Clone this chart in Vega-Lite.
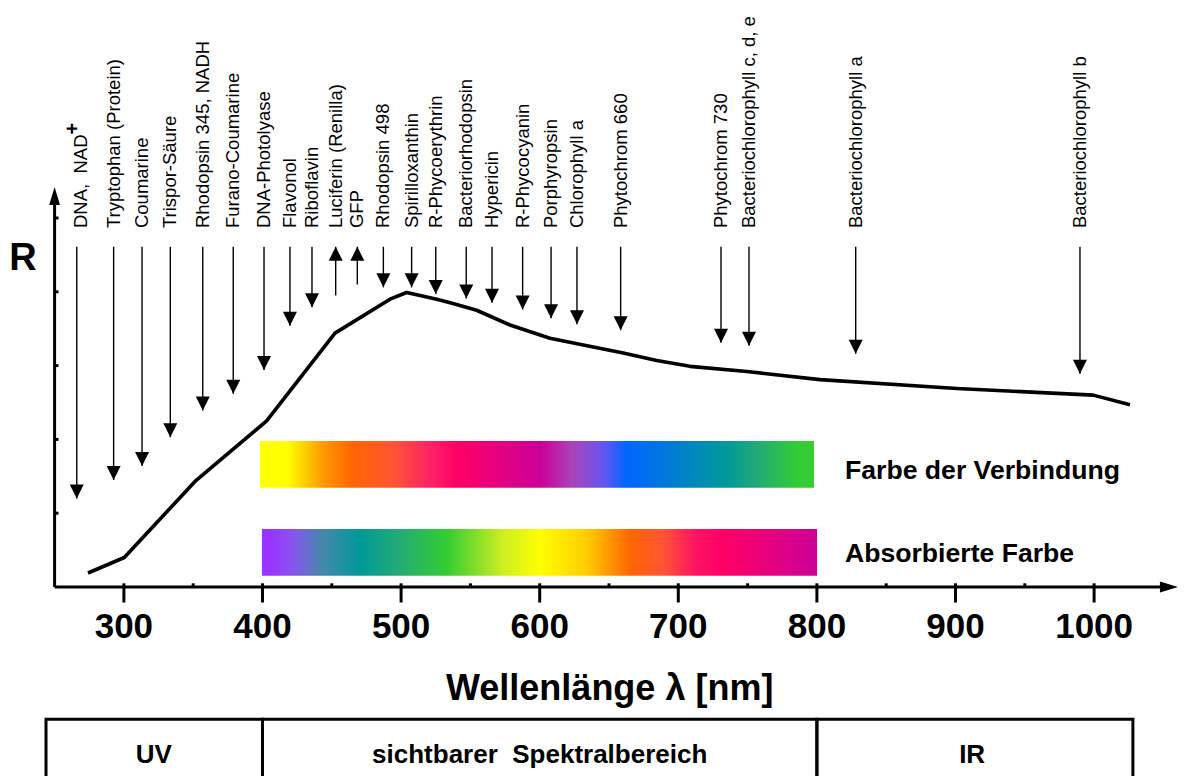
{
  "$schema": "https://vega.github.io/schema/vega-lite/v6.json",
  "width": 1184,
  "height": 776,
  "autosize": {"type": "none"},
  "padding": 0,
  "background": "white",
  "config": {"view": {"stroke": null}, "font": "Liberation Sans"},
  "datasets": {
    "curve": [
      {"nm": 274.1, "r": 0.19}, {"nm": 300.3, "r": 0.40}, {"nm": 351.3, "r": 1.43},
      {"nm": 403.0, "r": 2.25}, {"nm": 452.3, "r": 3.44}, {"nm": 492.0, "r": 3.90},
      {"nm": 504.0, "r": 3.99}, {"nm": 525.7, "r": 3.90}, {"nm": 537.4, "r": 3.84},
      {"nm": 554.5, "r": 3.75}, {"nm": 578.6, "r": 3.55}, {"nm": 607.4, "r": 3.37},
      {"nm": 631.5, "r": 3.28}, {"nm": 660.3, "r": 3.17}, {"nm": 684.4, "r": 3.07},
      {"nm": 708.4, "r": 2.99}, {"nm": 749.4, "r": 2.92}, {"nm": 802.2, "r": 2.81},
      {"nm": 900.9, "r": 2.69}, {"nm": 999.4, "r": 2.60}, {"nm": 1025.9, "r": 2.47}
    ],
    "arrows": [
      {"label": "DNA,\u00a0 NAD", "nm": 266.0, "lnm": 269.2, "tip": 1.20, "tail": 4.61, "dir": "down"},
      {"label": "Tryptophan (Protein)", "nm": 292.6, "lnm": 292.6, "tip": 1.45, "tail": 4.61, "dir": "down"},
      {"label": "Coumarine", "nm": 313.1, "lnm": 313.1, "tip": 1.64, "tail": 4.61, "dir": "down"},
      {"label": "Trispor-Säure", "nm": 333.5, "lnm": 333.5, "tip": 2.03, "tail": 4.61, "dir": "down"},
      {"label": "Rhodopsin 345, NADH", "nm": 356.9, "lnm": 356.9, "tip": 2.39, "tail": 4.61, "dir": "down"},
      {"label": "Furano-Coumarine", "nm": 378.9, "lnm": 378.9, "tip": 2.62, "tail": 4.61, "dir": "down"},
      {"label": "DNA-Photolyase", "nm": 401.1, "lnm": 401.1, "tip": 2.94, "tail": 4.61, "dir": "down"},
      {"label": "Flavonol", "nm": 419.8, "lnm": 419.8, "tip": 3.54, "tail": 4.61, "dir": "down"},
      {"label": "Riboflavin", "nm": 435.7, "lnm": 435.7, "tip": 3.79, "tail": 4.61, "dir": "down"},
      {"label": "Luciferin (Renilla)", "nm": 452.8, "lnm": 452.8, "tip": 4.61, "tail": 3.95, "dir": "up"},
      {"label": "GFP", "nm": 468.4, "lnm": 468.4, "tip": 4.61, "tail": 4.10, "dir": "up"},
      {"label": "Rhodopsin 498", "nm": 487.2, "lnm": 487.2, "tip": 4.06, "tail": 4.61, "dir": "down"},
      {"label": "Spirilloxanthin", "nm": 507.6, "lnm": 507.6, "tip": 4.06, "tail": 4.61, "dir": "down"},
      {"label": "R-Phycoerythrin", "nm": 525.0, "lnm": 525.0, "tip": 3.97, "tail": 4.61, "dir": "down"},
      {"label": "Bacteriorhodopsin", "nm": 547.0, "lnm": 547.0, "tip": 3.91, "tail": 4.61, "dir": "down"},
      {"label": "Hypericin", "nm": 565.6, "lnm": 565.6, "tip": 3.85, "tail": 4.61, "dir": "down"},
      {"label": "R-Phycocyanin", "nm": 587.7, "lnm": 587.7, "tip": 3.76, "tail": 4.61, "dir": "down"},
      {"label": "Porphyropsin", "nm": 608.2, "lnm": 608.2, "tip": 3.64, "tail": 4.61, "dir": "down"},
      {"label": "Chlorophyll a", "nm": 626.9, "lnm": 626.9, "tip": 3.56, "tail": 4.61, "dir": "down"},
      {"label": "Phytochrom 660", "nm": 658.4, "lnm": 658.4, "tip": 3.48, "tail": 4.61, "dir": "down"},
      {"label": "Phytochrom 730", "nm": 730.8, "lnm": 730.8, "tip": 3.31, "tail": 4.61, "dir": "down"},
      {"label": "Bacteriochlorophyll c, d, e", "nm": 751.0, "lnm": 751.0, "tip": 3.27, "tail": 4.61, "dir": "down"},
      {"label": "Bacteriochlorophyll a", "nm": 828.0, "lnm": 828.0, "tip": 3.16, "tail": 4.61, "dir": "down"},
      {"label": "Bacteriochlorophyll b", "nm": 989.8, "lnm": 989.8, "tip": 2.89, "tail": 4.61, "dir": "down"}
    ],
    "majors": [
      {"nm": 300, "t": "300"}, {"nm": 400, "t": "400"}, {"nm": 500, "t": "500"}, {"nm": 600, "t": "600"},
      {"nm": 700, "t": "700"}, {"nm": 800, "t": "800"}, {"nm": 900, "t": "900"}, {"nm": 1000, "t": "1000"}
    ],
    "minors": [
      {"nm": 300}, {"nm": 350}, {"nm": 400}, {"nm": 450}, {"nm": 500}, {"nm": 550}, {"nm": 600}, {"nm": 650},
      {"nm": 700}, {"nm": 750}, {"nm": 800}, {"nm": 850}, {"nm": 900}, {"nm": 950}, {"nm": 1000}
    ],
    "yticks": [{"r": 1}, {"r": 2}, {"r": 3}, {"r": 4}, {"r": 5}],
    "axes": [
      {"x1": 250, "y1": 0, "x2": 1052, "y2": 0},
      {"x1": 250, "y1": 0, "x2": 250, "y2": 5.2}
    ],
    "boxes": [
      {"name": "UV", "x1": 243.8, "x2": 400, "cx": 321.5},
      {"name": "sichtbarer\u00a0 Spektralbereich", "x1": 400, "x2": 800, "cx": 600},
      {"name": "IR", "x1": 800, "x2": 1028, "cx": 912}
    ],
    "barlabels": [
      {"t": "Farbe der Verbindung", "nm": 820.3, "r": 1.46},
      {"t": "Absorbierte Farbe", "nm": 820.3, "r": 0.34}
    ]
  },
  "layer": [
    {
      "data": {"values": [{"a": 398.2, "b": 797.9, "r1": 1.978, "r2": 1.346}]},
      "mark": {"type": "rect", "strokeWidth": 0, "fill": {"gradient": "linear", "x1": 0, "y1": 0, "x2": 1, "y2": 0, "stops": [
        {"offset": 0, "color": "#ffff00"}, {"offset": 0.05, "color": "#ffff00"}, {"offset": 0.114, "color": "#ff9900"},
        {"offset": 0.166, "color": "#ff6600"}, {"offset": 0.24, "color": "#ff5533"}, {"offset": 0.307, "color": "#ff2266"},
        {"offset": 0.356, "color": "#ff0066"}, {"offset": 0.505, "color": "#cc0099"}, {"offset": 0.565, "color": "#aa44bb"},
        {"offset": 0.619, "color": "#6655ee"}, {"offset": 0.662, "color": "#0066ff"}, {"offset": 0.727, "color": "#0077dd"},
        {"offset": 0.843, "color": "#009999"}, {"offset": 0.897, "color": "#22aa77"}, {"offset": 0.97, "color": "#33cc33"},
        {"offset": 1, "color": "#33cc33"}]}},
      "encoding": {
        "x": {"field": "a", "type": "quantitative", "scale": {"domain": [210.61, 1064.86], "nice": false, "zero": false}, "axis": null},
        "x2": {"field": "b"},
        "y": {"field": "r1", "type": "quantitative", "scale": {"domain": [-2.561, 7.954], "nice": false, "zero": false}, "axis": null},
        "y2": {"field": "r2"}
      }
    },
    {
      "data": {"values": [{"a": 399.6, "b": 800.1, "r1": 0.786, "r2": 0.153}]},
      "mark": {"type": "rect", "strokeWidth": 0, "fill": {"gradient": "linear", "x1": 0, "y1": 0, "x2": 1, "y2": 0, "stops": [
        {"offset": 0, "color": "#9933ff"}, {"offset": 0.015, "color": "#9933ff"}, {"offset": 0.056, "color": "#8855ee"},
        {"offset": 0.11, "color": "#4488aa"}, {"offset": 0.177, "color": "#009999"}, {"offset": 0.243, "color": "#22aa77"},
        {"offset": 0.333, "color": "#33cc33"}, {"offset": 0.434, "color": "#ccee22"}, {"offset": 0.5, "color": "#ffff00"},
        {"offset": 0.586, "color": "#ffcc00"}, {"offset": 0.663, "color": "#ff6600"}, {"offset": 0.722, "color": "#ff5533"},
        {"offset": 0.784, "color": "#ff1166"}, {"offset": 0.831, "color": "#ff0066"}, {"offset": 1, "color": "#cc0099"}]}},
      "encoding": {
        "x": {"field": "a", "type": "quantitative", "axis": null},
        "x2": {"field": "b"},
        "y": {"field": "r1", "type": "quantitative", "axis": null},
        "y2": {"field": "r2"}
      }
    },
    {
      "data": {"name": "curve"},
      "mark": {"type": "line", "color": "#000", "strokeWidth": 3.6, "strokeJoin": "round"},
      "encoding": {
        "x": {"field": "nm", "type": "quantitative", "axis": null},
        "y": {"field": "r", "type": "quantitative", "axis": null}
      }
    },
    {
      "data": {"name": "arrows"},
      "mark": {"type": "rule", "color": "#000", "strokeWidth": 1.4},
      "encoding": {
        "x": {"field": "nm", "type": "quantitative", "axis": null},
        "y": {"field": "tail", "type": "quantitative", "axis": null},
        "y2": {"field": "tip"}
      }
    },
    {
      "data": {"name": "arrows"},
      "mark": {"type": "point", "filled": true, "color": "#000", "opacity": 1, "strokeWidth": 0, "size": 784},
      "encoding": {
        "x": {"field": "nm", "type": "quantitative", "axis": null},
        "y": {"field": "tip", "type": "quantitative", "axis": null},
        "shape": {"field": "dir", "type": "nominal", "legend": null, "scale": {"domain": ["down", "up"], "range": ["M0,0L-0.5,-1L0.5,-1Z", "M0,0L-0.5,1L0.5,1Z"]}}
      }
    },
    {
      "data": {"name": "arrows"},
      "mark": {"type": "text", "angle": 270, "align": "left", "baseline": "middle", "fontSize": 18.5, "color": "#000"},
      "encoding": {
        "x": {"field": "lnm", "type": "quantitative", "axis": null},
        "y": {"datum": 4.864, "type": "quantitative", "axis": null},
        "text": {"field": "label"}
      }
    },
    {
      "data": {"values": [{"t": "+", "nm": 263.3, "r": 6.21}]},
      "mark": {"type": "text", "angle": 270, "align": "center", "baseline": "middle", "fontSize": 20, "fontWeight": "bold", "color": "#000"},
      "encoding": {
        "x": {"field": "nm", "type": "quantitative", "axis": null},
        "y": {"field": "r", "type": "quantitative", "axis": null},
        "text": {"field": "t"}
      }
    },
    {
      "data": {"name": "axes"},
      "mark": {"type": "rule", "color": "#000", "strokeWidth": 3},
      "encoding": {
        "x": {"field": "x1", "type": "quantitative", "axis": null},
        "x2": {"field": "x2"},
        "y": {"field": "y1", "type": "quantitative", "axis": null},
        "y2": {"field": "y2"}
      }
    },
    {
      "data": {"values": [{"nm": 1060.5, "r": 0}]},
      "mark": {"type": "point", "filled": true, "color": "#000", "opacity": 1, "strokeWidth": 0, "size": 1296, "shape": "M0,0L-1,-0.3L-1,0.3Z"},
      "encoding": {
        "x": {"field": "nm", "type": "quantitative", "axis": null},
        "y": {"field": "r", "type": "quantitative", "axis": null}
      }
    },
    {
      "data": {"values": [{"nm": 250, "r": 5.42}]},
      "mark": {"type": "point", "filled": true, "color": "#000", "opacity": 1, "strokeWidth": 0, "size": 1296, "shape": "M0,0L-0.3,1L0.3,1Z"},
      "encoding": {
        "x": {"field": "nm", "type": "quantitative", "axis": null},
        "y": {"field": "r", "type": "quantitative", "axis": null}
      }
    },
    {
      "data": {"name": "majors"},
      "mark": {"type": "rule", "color": "#000", "strokeWidth": 3},
      "encoding": {
        "x": {"field": "nm", "type": "quantitative", "axis": null},
        "y": {"datum": 0, "type": "quantitative", "axis": null},
        "y2": {"datum": -0.21}
      }
    },
    {
      "data": {"name": "minors"},
      "mark": {"type": "rule", "color": "#000", "strokeWidth": 3},
      "encoding": {
        "x": {"field": "nm", "type": "quantitative", "axis": null},
        "y": {"datum": 0, "type": "quantitative", "axis": null},
        "y2": {"datum": 0.05}
      }
    },
    {
      "data": {"name": "yticks"},
      "mark": {"type": "rule", "color": "#000", "strokeWidth": 3},
      "encoding": {
        "x": {"datum": 250, "type": "quantitative", "axis": null},
        "x2": {"datum": 252.8},
        "y": {"field": "r", "type": "quantitative", "axis": null}
      }
    },
    {
      "data": {"name": "majors"},
      "mark": {"type": "text", "align": "center", "baseline": "alphabetic", "fontSize": 35, "fontWeight": "bold", "color": "#000"},
      "encoding": {
        "x": {"field": "nm", "type": "quantitative", "axis": null},
        "y": {"datum": -0.691, "type": "quantitative", "axis": null},
        "text": {"field": "t"}
      }
    },
    {
      "data": {"values": [{"t": "Wellenlänge λ [nm]", "nm": 650.5, "r": -1.531}]},
      "mark": {"type": "text", "align": "center", "baseline": "alphabetic", "fontSize": 36, "fontWeight": "bold", "color": "#000"},
      "encoding": {
        "x": {"field": "nm", "type": "quantitative", "axis": null},
        "y": {"field": "r", "type": "quantitative", "axis": null},
        "text": {"field": "t"}
      }
    },
    {
      "data": {"values": [{"t": "R", "nm": 227.2, "r": 4.30}]},
      "mark": {"type": "text", "align": "center", "baseline": "alphabetic", "fontSize": 38, "fontWeight": "bold", "color": "#000"},
      "encoding": {
        "x": {"field": "nm", "type": "quantitative", "axis": null},
        "y": {"field": "r", "type": "quantitative", "axis": null},
        "text": {"field": "t"}
      }
    },
    {
      "data": {"name": "barlabels"},
      "mark": {"type": "text", "align": "left", "baseline": "alphabetic", "fontSize": 26.6, "fontWeight": "bold", "color": "#000"},
      "encoding": {
        "x": {"field": "nm", "type": "quantitative", "axis": null},
        "y": {"field": "r", "type": "quantitative", "axis": null},
        "text": {"field": "t"}
      }
    },
    {
      "data": {"name": "boxes"},
      "mark": {"type": "rect", "fill": "white", "fillOpacity": 0, "stroke": "#000", "strokeWidth": 3},
      "encoding": {
        "x": {"field": "x1", "type": "quantitative", "axis": null},
        "x2": {"field": "x2"},
        "y": {"datum": -1.793, "type": "quantitative", "axis": null},
        "y2": {"datum": -3.2}
      }
    },
    {
      "data": {"name": "boxes"},
      "mark": {"type": "text", "align": "center", "baseline": "alphabetic", "fontSize": 26, "fontWeight": "bold", "color": "#000"},
      "encoding": {
        "x": {"field": "cx", "type": "quantitative", "axis": null},
        "y": {"datum": -2.385, "type": "quantitative", "axis": null},
        "text": {"field": "name"}
      }
    }
  ]
}
